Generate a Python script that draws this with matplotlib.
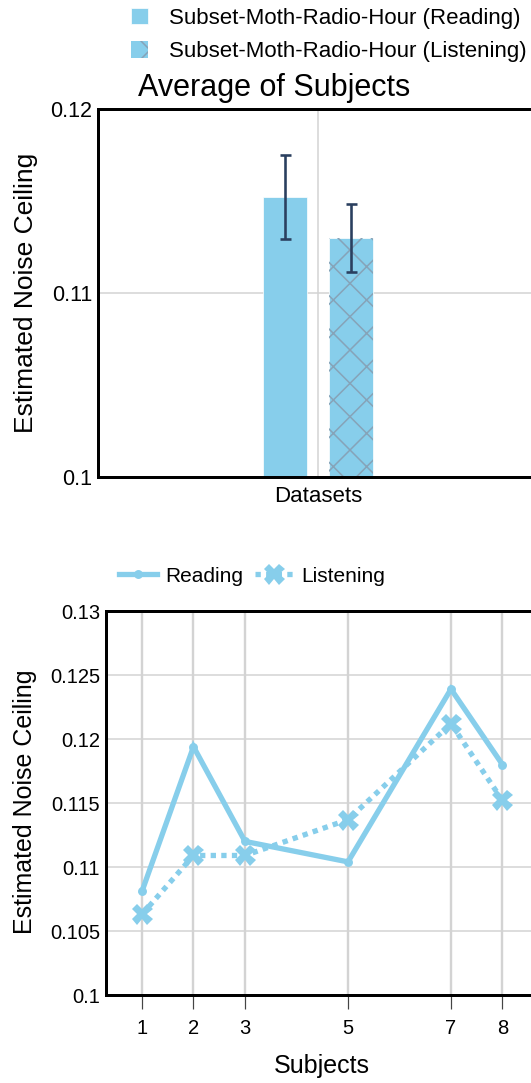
import matplotlib
matplotlib.use('Agg')
import matplotlib.pyplot as plt
from matplotlib.ticker import FuncFormatter, FixedLocator
from matplotlib.patches import Patch

plt.rcParams['font.family'] = ['Liberation Sans', 'DejaVu Sans']
plt.rcParams['hatch.linewidth'] = 1.1

# ---- data ----
conditions = ['Subset-Moth-Radio-Hour (Reading)', 'Subset-Moth-Radio-Hour (Listening)']
avg_values = [0.1152, 0.1130]
avg_errors = [0.00228, 0.00185]
bar_offsets = [-0.15, 0.15]

subjects = [1, 2, 3, 5, 7, 8]
reading = [0.1081, 0.1194, 0.1120, 0.1104, 0.1239, 0.1180]
listening = [0.1063, 0.1109, 0.1109, 0.1137, 0.1212, 0.1152]

top_yticks = [0.1, 0.11, 0.12]
bot_yticks = [0.1, 0.105, 0.11, 0.115, 0.12, 0.125, 0.13]

W, H = 531, 1083
PT = 0.72  # points per pixel at dpi 100
BLUE = '#87CEEB'
HATCH = '#86a3b8'
ERR = '#2a3f5f'
GRID = '#d3d3d3'

fig = plt.figure(figsize=(W / 100, H / 100), dpi=100)

def fmt(v, pos):
    return '{:g}'.format(round(v, 6))

# ---- top bar chart ----
ax1 = fig.add_axes([98 / W, (H - 477) / H, 440 / W, 368 / H])
ax1.set_xlim(-1, 1)
ax1.set_ylim(0.1, 0.12)
ax1.set_axisbelow(True)
ax1.yaxis.set_major_locator(FixedLocator(top_yticks))
ax1.yaxis.set_major_formatter(FuncFormatter(fmt))
ax1.set_xticks([0])
ax1.set_xticklabels([''])
ax1.grid(True, color=GRID, linewidth=1.5 * PT)
ax1.tick_params(axis='both', length=0, labelsize=15.5, pad=6 * PT)

for i, (off, v, e) in enumerate(zip(bar_offsets, avg_values, avg_errors)):
    ax1.bar(off, v - 0.1, bottom=0.1, width=0.2, color=BLUE,
            edgecolor='white', linewidth=0.5, zorder=2)
    if i == 1:
        ax1.bar(off, v - 0.1, bottom=0.1, width=0.2, facecolor='none',
                edgecolor=HATCH, hatch='x', linewidth=0, zorder=2.1)
    ax1.errorbar(off, v, yerr=e, fmt='none', ecolor=ERR,
                 elinewidth=2.6 * PT, capsize=5.5 * PT, capthick=2.6 * PT, zorder=3)

for s in ['left', 'top', 'bottom', 'right']:
    ax1.spines[s].set_linewidth(3 * PT)
    ax1.spines[s].set_color('black')

ax1.set_xlabel('Datasets', fontsize=16, va='center')
ax1.xaxis.set_label_coords(0.5, -(497 - 477) / 368)
ax1.set_ylabel('Estimated Noise Ceiling', fontsize=19, va='center')
ax1.yaxis.set_label_coords((26 - 98) / 440, 0.5)

fig.text(138 / W, 1 - 88 / H, 'Average of Subjects', fontsize=22,
         ha='left', va='center')

h1 = Patch(facecolor=BLUE, edgecolor='white', linewidth=0.5)
h2 = Patch(facecolor=BLUE, edgecolor=HATCH, hatch='x', linewidth=0)
fig.legend([h1, h2], conditions, loc='upper left',
           bbox_to_anchor=(131 / W, 1 - 8 / H), frameon=False, fontsize=16,
           handlelength=0.75, handleheight=0.75, handletextpad=0.95,
           labelspacing=0.55, borderpad=0, borderaxespad=0)

# ---- bottom line chart ----
ax2 = fig.add_axes([106 / W, (H - 995) / H, 432 / W, 384 / H])
ax2.set_xlim(0.301, 8.69)
ax2.set_ylim(0.1, 0.13)
ax2.set_axisbelow(True)
ax2.yaxis.set_major_locator(FixedLocator(bot_yticks))
ax2.yaxis.set_major_formatter(FuncFormatter(fmt))
ax2.set_xticks(subjects)
ax2.set_xticklabels([str(s) for s in subjects])
ax2.grid(True, axis='x', color=GRID, linewidth=2.4 * PT)
ax2.grid(True, axis='y', color=GRID, linewidth=1.5 * PT)
ax2.tick_params(axis='y', length=0, labelsize=14.5, pad=6 * PT)
ax2.tick_params(axis='x', length=14 * PT, width=1.2 * PT, color='#444444',
                labelsize=14.5, pad=10 * PT)

ax2.plot(subjects, reading, color=BLUE, linewidth=5.3 * PT, marker='o',
         markersize=7.5 * PT, label='Reading', zorder=3, clip_on=False,
         solid_joinstyle='miter')
ax2.plot(subjects, listening, color=BLUE, linewidth=5.3 * PT,
         linestyle=(0, (1.0, 1.0)), dash_capstyle='butt', marker='X',
         markersize=21 * PT, markeredgewidth=0, label='Listening', zorder=3,
         clip_on=False)

for s in ['left', 'top', 'bottom', 'right']:
    ax2.spines[s].set_linewidth(3 * PT)
    ax2.spines[s].set_color('black')

ax2.set_xlabel('Subjects', fontsize=18, va='center')
ax2.xaxis.set_label_coords(0.5, -(1066 - 995) / 384)
ax2.set_ylabel('Estimated Noise Ceiling', fontsize=18, va='center')
ax2.yaxis.set_label_coords((25 - 106) / 432, 0.503)

fig.legend(loc='center left', bbox_to_anchor=(119 / W, 1 - 576 / H),
           frameon=False, fontsize=15, ncol=2, handlelength=1.8,
           handletextpad=0.4, columnspacing=0.6, borderpad=0, borderaxespad=0)

fig.savefig('out.png', dpi=100)
